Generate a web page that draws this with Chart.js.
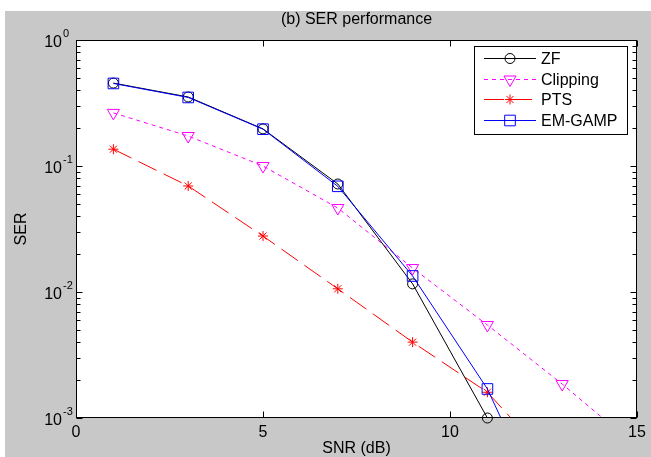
<!DOCTYPE html>
<html>
<head>
<meta charset="utf-8">
<script src="https://cdn.jsdelivr.net/npm/chart.js@4.4.0/dist/chart.umd.min.js"></script>
<style>
  body { margin: 0; background: #fff; }
  canvas { display: block; }
</style>
</head>
<body>
<canvas id="myChart" width="651" height="457"></canvas>
<script>
// SNR points (dB); the last ones leave the plot below 1e-3 and get clipped
const snr = [1, 3, 5, 7, 9, 11, 13, 15];

const zfSer       = [0.455, 0.353, 0.197, 0.072, 0.0116, 0.001];
const clippingSer = [0.264, 0.173, 0.100, 0.0464, 0.0155, 0.00547, 0.00186, 0.00059];
const ptsSer      = [0.136, 0.0694, 0.0278, 0.0106, 0.0040, 0.0016, 0.00036];
const emGampSer   = [0.452, 0.350, 0.196, 0.069, 0.0134, 0.0017, 0.00009];

const xTicks = [0, 5, 10, 15];
const yTicks = [1, 0.1, 0.01, 0.001];
const yTickExp = ['0', '-1', '-2', '-3'];

const FONT = '"Liberation Sans", Arial, sans-serif';

const toPoints = (values) => values.map((v, i) => ({ x: snr[i], y: v }));

const set = [
    {
        label: 'ZF',
        data: toPoints(zfSer),
        borderColor: '#000000',
        pointStyle: 'circle',
        pointRadius: 5,
        order: 4,
        clip: false
    },
    {
        label: 'Clipping',
        data: toPoints(clippingSer),
        borderColor: '#ff00ff',
        borderDash: [4, 4],
        pointStyle: 'triangle',
        pointRotation: 180,
        pointRadius: 7,
        order: 3
    },
    {
        label: 'PTS',
        data: toPoints(ptsSer),
        borderColor: '#ff0000',
        borderDash: [20, 8],
        pointStyle: 'star',
        pointRadius: 5,
        order: 2
    },
    {
        label: 'EM-GAMP',
        data: toPoints(emGampSer),
        borderColor: '#0000ff',
        pointStyle: 'rect',
        pointRadius: 7.5,
        order: 1
    }
];

set.forEach(ds => {
    ds.borderWidth = 1;
    ds.pointBorderColor = ds.borderColor;
    ds.pointBackgroundColor = 'rgba(0,0,0,0)';
    ds.pointBorderWidth = 1;
    ds.fill = false;
    ds.tension = 0;
});

const drawText = (ctx, str, x, y, size, align, rot) => {
    ctx.save();
    ctx.translate(x, y);
    if (rot) ctx.rotate(rot);
    ctx.font = size + 'px ' + FONT;
    ctx.fillStyle = '#000';
    ctx.textAlign = align || 'center';
    ctx.textBaseline = 'middle';
    ctx.fillText(str, 0, 0);
    ctx.restore();
};

// matlab style figure: grey frame, boxed axes, inward ticks, legend box
const matlabFrame = {
    id: 'matlabFrame',
    beforeDraw(chart) {
        const { ctx, chartArea: a } = chart;
        ctx.save();
        ctx.fillStyle = '#ffffff';
        ctx.fillRect(0, 0, chart.width, chart.height);
        ctx.fillStyle = '#c8c8c8';
        ctx.fillRect(5, 11, chart.width - 5, chart.height - 11);
        ctx.fillStyle = '#ffffff';
        ctx.fillRect(a.left, a.top, a.right - a.left, a.bottom - a.top);
        ctx.restore();
    },
    afterDraw(chart) {
        const { ctx, chartArea: a } = chart;
        const xs = chart.scales.x;
        const ys = chart.scales.y;
        const L = a.left + 0.5, R = a.right - 0.5, T = a.top + 0.5, B = a.bottom - 0.5;

        ctx.save();
        ctx.strokeStyle = '#000';
        ctx.lineWidth = 1;
        ctx.strokeRect(L, T, R - L, B - T);

        ctx.beginPath();
        xTicks.forEach(v => {
            const px = Math.round(xs.getPixelForValue(v)) + 0.5;
            ctx.moveTo(px, B); ctx.lineTo(px, B - 6);
            ctx.moveTo(px, T); ctx.lineTo(px, T + 6);
        });
        yTicks.forEach(v => {
            const py = Math.round(ys.getPixelForValue(v)) + 0.5;
            ctx.moveTo(L, py); ctx.lineTo(L + 6, py);
            ctx.moveTo(R, py); ctx.lineTo(R - 6, py);
            if (v < 1) {
                for (let k = 2; k <= 9; k++) {
                    const pm = Math.round(ys.getPixelForValue(v * k)) + 0.5;
                    ctx.moveTo(L, pm); ctx.lineTo(L + 4, pm);
                    ctx.moveTo(R, pm); ctx.lineTo(R - 4, pm);
                }
            }
        });
        ctx.stroke();
        ctx.restore();

        // tick labels
        xTicks.forEach(v => drawText(ctx, String(v), xs.getPixelForValue(v), 433, 16));
        yTicks.forEach((v, i) => {
            const py = ys.getPixelForValue(v);
            drawText(ctx, '10', 62, py + 3, 16, 'right');
            drawText(ctx, yTickExp[i], 63, py - 6, 11, 'left');
        });

        // titles
        drawText(ctx, '(b) SER performance', (a.left + a.right) / 2, 20, 16);
        drawText(ctx, 'SNR (dB)', (a.left + a.right) / 2, 449, 16);
        drawText(ctx, 'SER', 22, (a.top + a.bottom) / 2, 16, 'center', -Math.PI / 2);

        // legend
        ctx.save();
        ctx.fillStyle = '#fff';
        ctx.fillRect(474.5, 46.5, 153, 88);
        ctx.strokeStyle = '#000';
        ctx.lineWidth = 1;
        ctx.strokeRect(474.5, 46.5, 153, 88);
        set.forEach((ds, i) => {
            const y = Math.round(58 + i * 20.6) + 0.5;
            ctx.save();
            ctx.strokeStyle = ds.borderColor;
            ctx.lineWidth = 1;
            ctx.setLineDash(ds.borderDash || []);
            ctx.beginPath();
            ctx.moveTo(484, y);
            ctx.lineTo(536, y);
            ctx.stroke();
            ctx.setLineDash([]);
            ctx.fillStyle = 'rgba(0,0,0,0)';
            Chart.helpers.drawPoint(ctx, {
                pointStyle: ds.pointStyle,
                radius: ds.pointRadius,
                rotation: ds.pointRotation || 0,
                borderWidth: 1
            }, 510, y);
            ctx.restore();
            drawText(ctx, ds.label, 541, y + 1, 16, 'left');
        });
        ctx.restore();
    }
};

const config = {
    type: 'line',
    data: { datasets: set },
    options: {
        responsive: false,
        animation: false,
        layout: {
            padding: { left: 76, top: 40, right: 14, bottom: 39 }
        },
        plugins: {
            legend: { display: false },
            title: { display: false },
            tooltip: { enabled: false }
        },
        scales: {
            x: { type: 'linear', min: 0, max: 15, display: false },
            y: { type: 'logarithmic', min: 0.001, max: 1, display: false }
        }
    },
    plugins: [matlabFrame]
};

const myChart = new Chart(document.getElementById('myChart'), config);
</script>
</body>
</html>
